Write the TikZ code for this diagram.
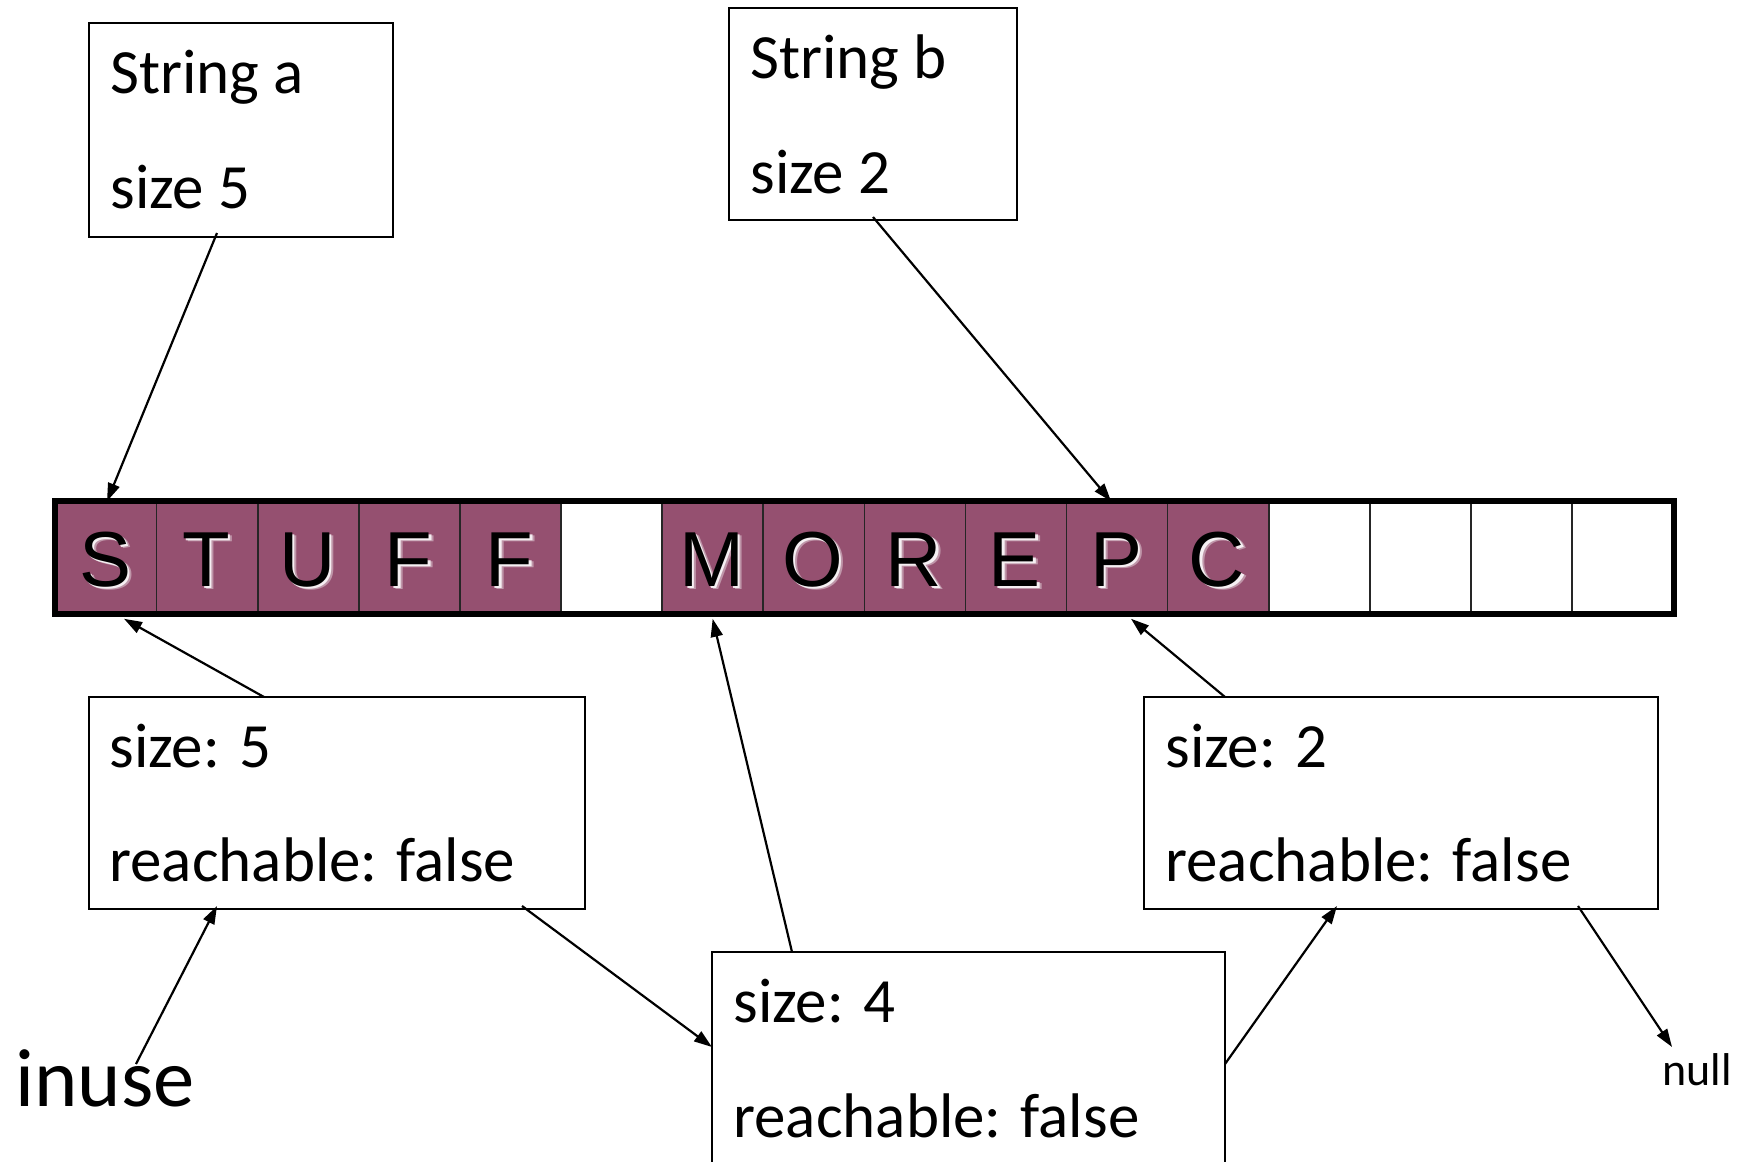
\documentclass[tikz,border=0pt]{standalone}
\usepackage{fontspec}
\setmainfont{Carlito}
\newfontfamily\cellfont{Liberation Sans}
\usetikzlibrary{arrows.meta,fit,calc}
\definecolor{heap}{RGB}{149,80,112}

\begin{document}
\begin{tikzpicture}[x=0.5pt,y=-0.5pt,
  membox/.style={draw=black, line width=1pt, inner sep=0pt, rectangle},
  txt/.style={anchor=base west, inner sep=0pt, font=\fontsize{31.5pt}{36pt}\selectfont},
  ptr/.style={draw=black, line width=1.1pt, -{Triangle[length=9pt,width=6pt]}},
  cellbox/.style={draw=black!85, line width=0.8pt, minimum width=50.55pt,
                  minimum height=55.5pt, inner sep=0pt, rectangle},
  heapused/.style={fill=heap},
  heapfree/.style={fill=white},
  glyph/.style={font=\cellfont\fontsize{39pt}{39pt}\selectfont, inner sep=0pt, anchor=base}
]
\useasboundingbox (0,0) rectangle (1742,1162);
\clip (0,0) rectangle (1742,1162);
\fill[white] (0,0) rectangle (1742,1162);

% the heap: sixteen character cells
\foreach \i/\st in {0/heapused,1/heapused,2/heapused,3/heapused,4/heapused,
                    5/heapfree,6/heapused,7/heapused,8/heapused,9/heapused,
                    10/heapused,11/heapused,12/heapfree,13/heapfree,14/heapfree,15/heapfree}
  \node[cellbox,\st] (c\i) at ({55.5+101.1*\i+50.55},557.5) {};
\draw[line width=3pt] (c0.north west) rectangle (c15.south east);

% letters with a soft light shadow to the lower right
\foreach \i/\ch in {0/S,1/T,2/U,3/F,4/F,6/M,7/O,8/R,9/E,10/P,11/C} {
  \node[glyph, text=white, opacity=0.4] at ($(c\i.center)+(3.5,32)$) {\ch};
  \node[glyph, text=white, opacity=0.85] at ($(c\i.center)+(1.5,30.5)$) {\ch};
  \node[glyph, text=black] (g\i) at ($(c\i.center)+(-1,28.5)$) {\ch};
}

% string handles
\node[membox, fit={(89,23) (393,237)}] (sa) {};
\node[txt] (saName) at (110,93) {String a};
\node[txt] (saSize) at (110,208) {size 5};

\node[membox, fit={(729,8) (1017,220)}] (sb) {};
\node[txt] (sbName) at (750,78) {String b};
\node[txt] (sbSize) at (750,193) {size 2};

% block headers
\node[membox, fit={(89,697) (585,909)}] (h5) {};
\node[txt] (h5Size) at (109,767) {size: 5};
\node[txt] (h5Reach) at (109,881) {reachable: false};

\node[membox, fit={(1144,697) (1658,909)}] (h2) {};
\node[txt] (h2Size) at (1165,767) {size: 2};
\node[txt] (h2Reach) at (1165,881) {reachable: false};

\node[membox, fit={(712,952) (1225,1180)}] (h4) {};
\node[txt] (h4Size) at (733,1022) {size: 4};
\node[txt] (h4Reach) at (733,1137) {reachable: false};

\node[anchor=base west, inner sep=0pt, font=\fontsize{41.3pt}{46pt}\selectfont] (inuse) at (15,1106) {inuse};
\node[anchor=base west, inner sep=0pt, font=\fontsize{23pt}{26pt}\selectfont] (null) at (1662,1085) {null};

% connector end points
\coordinate (saOut) at (217,233);
\coordinate (sbOut) at (873,217);
\coordinate (h5Up) at (264,697);
\coordinate (h4Up) at (792,952);
\coordinate (h2Up) at (1225,697);
\coordinate (inuseOut) at (136,1064);
\coordinate (h5In) at (217,906);
\coordinate (h5Next) at (522,906);
\coordinate (h4In) at (712,1047);
\coordinate (h4Next) at (1225,1064);
\coordinate (h2In) at (1337,906);
\coordinate (h2Next) at (1578,906);
\coordinate (nullIn) at (1672,1047);

% pointers
\draw[ptr] (saOut) -- ([shift={(1,0)}]c0.north);
\draw[ptr] (sbOut) -- ([shift={(-6,0)}]c10.north);
\draw[ptr] (h5Up) -- ([shift={(18,5)}]c0.south);
\draw[ptr] (h4Up) -- ([shift={(0,5)}]c6.south);
\draw[ptr] (h2Up) -- ([shift={(14,5)}]c10.south);
\draw[ptr] (inuseOut) -- (h5In);
\draw[ptr] (h5Next) -- (h4In);
\draw[ptr] (h4Next) -- (h2In);
\draw[ptr] (h2Next) -- (nullIn);
\end{tikzpicture}
\end{document}
